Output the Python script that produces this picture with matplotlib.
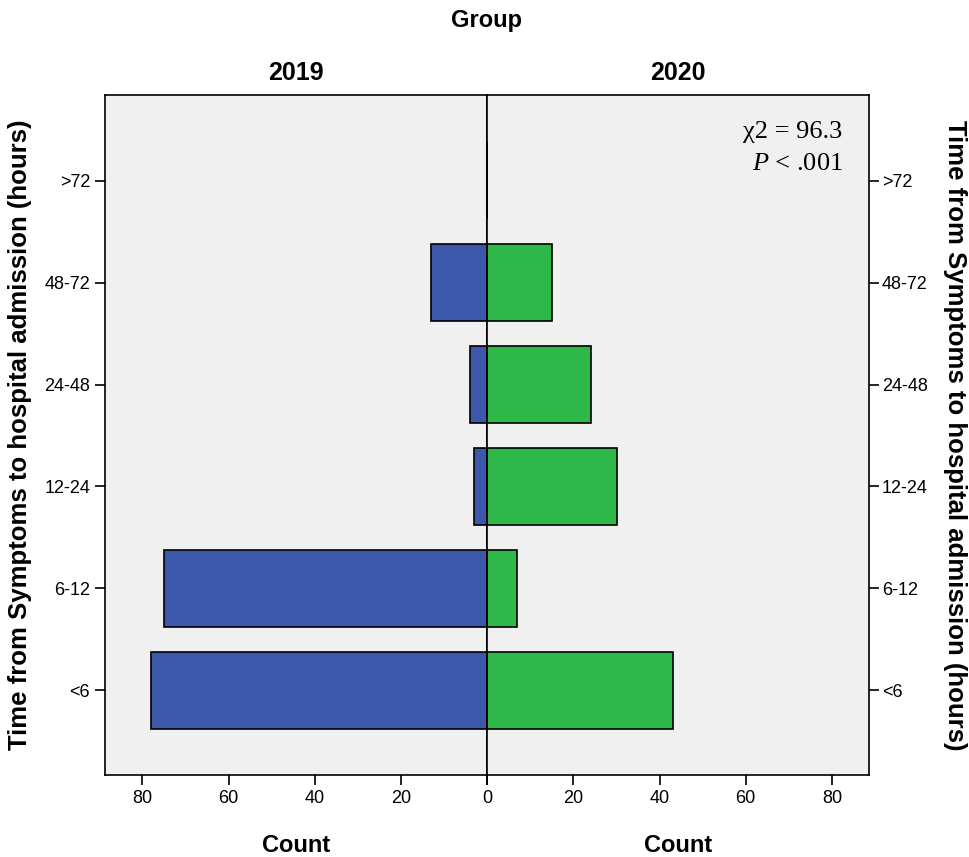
import matplotlib.pyplot as plt

# Counts per delay bin, 2019 vs 2020
bins = ["<6", "6-12", "12-24", "24-48", "48-72", ">72"]
count_2019 = [78, 75, 3, 4, 13, 0]
count_2020 = [43, 7, 30, 24, 15, 0]

blue = "#3d57aa"
green = "#2fb84a"
panel_bg = "#f0f0f0"
plt.rcParams["font.family"] = ["Liberation Sans", "DejaVu Sans"]
plt.rcParams["mathtext.fontset"] = "custom"
plt.rcParams["mathtext.rm"] = "Liberation Serif"
plt.rcParams["mathtext.it"] = "Liberation Serif:italic"

fig = plt.figure(figsize=(9.7, 8.57), dpi=100)
ax_l = fig.add_axes([0.108, 0.0957, 0.3944, 0.7935])
ax_r = fig.add_axes([0.5024, 0.0957, 0.3938, 0.7935])

ypos = list(range(len(bins)))
xmax = 88.7

ax_l.barh(ypos, count_2019, height=0.75, color=blue, edgecolor="black", linewidth=1.2)
ax_r.barh(ypos, count_2020, height=0.75, color=green, edgecolor="black", linewidth=1.2)

for ax in (ax_l, ax_r):
    ax.set_facecolor(panel_bg)
    ax.set_ylim(-0.83, 5.84)
    ax.set_yticks(ypos)
    ax.set_yticklabels(bins)
    ax.set_xticks([0, 20, 40, 60, 80])
    ax.tick_params(axis="both", labelsize=13, length=7, width=1.2, colors="black")
    for s in ax.spines.values():
        s.set_linewidth(1.2)

ax_l.set_xlim(xmax, 0)
ax_r.set_xlim(0, xmax)
ax_r.set_xticklabels(["", "20", "40", "60", "80"])
ax_r.yaxis.tick_right()
ax_r.yaxis.set_label_position("right")
ax_r.tick_params(axis="y", pad=2)

lab = dict(fontsize=17, fontweight="bold")
ax_l.set_xlabel("Count", labelpad=20, **lab)
ax_r.set_xlabel("Count", labelpad=20, **lab)
ylab = "Time from Symptoms to hospital admission (hours)"
ax_l.set_ylabel(ylab, fontsize=18.5, fontweight="bold", labelpad=9)
ax_r.set_ylabel(ylab, fontsize=18.5, fontweight="bold", rotation=270, labelpad=28)

ax_l.set_title("2019", fontsize=18, fontweight="bold", pad=11)
ax_r.set_title("2020", fontsize=18, fontweight="bold", pad=11)
fig.text(0.502, 0.976, "Group", ha="center", va="center", **lab)

ax_r.text(0.93, 0.945, "χ2 = 96.3", transform=ax_r.transAxes, ha="right", va="center",
          fontsize=19, family="Liberation Serif")
ax_r.text(0.93, 0.898, r"$P$ < .001", transform=ax_r.transAxes, ha="right", va="center",
          fontsize=19, family="Liberation Serif")

fig.savefig("out.png", dpi=100)
